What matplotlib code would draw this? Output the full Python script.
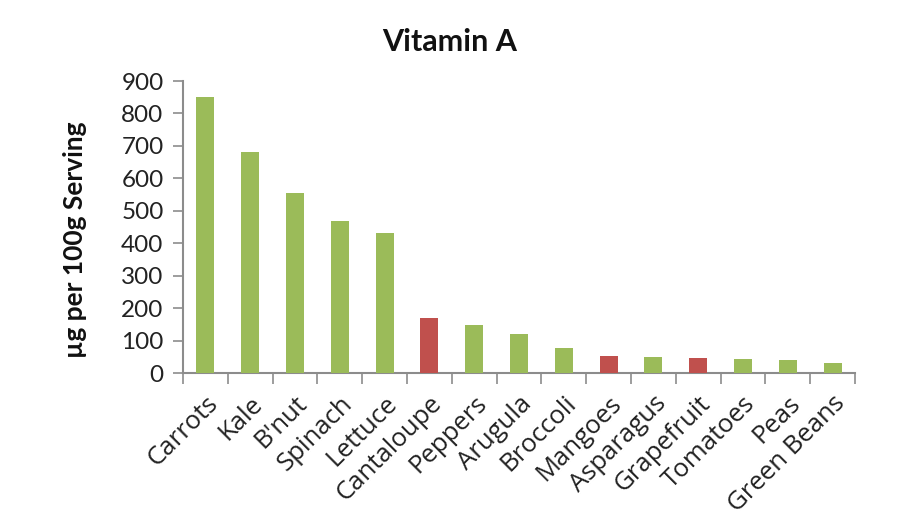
import matplotlib
matplotlib.use("Agg")
import matplotlib.pyplot as plt
import numpy as np

categories = ["Carrots", "Kale", "B'nut", "Spinach", "Lettuce", "Cantaloupe", "Peppers",
              "Arugula", "Broccoli", "Mangoes", "Asparagus", "Grapefruit", "Tomatoes",
              "Peas", "Green Beans"]
values = [850, 680, 555, 467, 433, 170, 148, 120, 77, 52, 49, 47, 43, 40, 31]
is_fruit = [False, False, False, False, False, True, False, False, False, True, False, True,
            False, False, False]
yticks = [0, 100, 200, 300, 400, 500, 600, 700, 800, 900]

GREEN = "#9BBB59"
RED = "#C0504D"
GRAY = "#8c8c8c"

plt.rcParams['font.family'] = ['Lato', 'DejaVu Sans']

fig = plt.figure(figsize=(9, 5.2), dpi=100)
ax = fig.add_axes([183/900, 1-373/520, (855-183)/900, (373-81)/520])

x = np.arange(len(categories))
colors = [RED if f else GREEN for f in is_fruit]
ax.bar(x, values, width=0.4, color=colors, zorder=3)

ax.set_xlim(-0.5, len(categories) - 0.5)
ax.set_ylim(0, 900)
ax.set_yticks(yticks)
ax.set_yticklabels([str(v) for v in yticks], fontsize=17.5, color="#222222")

ax.set_xticks(x)
ax.set_xticklabels(categories, rotation=45, ha='right', rotation_mode='anchor',
                   fontsize=18.5, color="#222222", family=['Open Sans', 'DejaVu Sans'])
ax.tick_params(axis='x', which='major', length=0, pad=13)
ax.set_xticks(np.arange(-0.5, len(categories)), minor=True)
ax.tick_params(axis='x', which='minor', length=8, width=1.2, color=GRAY, direction='out')
ax.tick_params(axis='y', length=7, width=1.2, color=GRAY, direction='out', pad=7)

for s in ['top', 'right']:
    ax.spines[s].set_visible(False)
for s in ['left', 'bottom']:
    ax.spines[s].set_color(GRAY)
    ax.spines[s].set_linewidth(1.5)

fig.text(0.5, 1-42/520, "Vitamin A", ha='center', va='center', fontsize=22,
         fontweight='bold', color="#111111")
fig.text(75/900, 1-240/520, "µg per 100g Serving", ha='center', va='center', rotation=90,
         fontsize=19, fontweight='bold', color="#111111")

fig.savefig("out.png", dpi=100, facecolor='white')
